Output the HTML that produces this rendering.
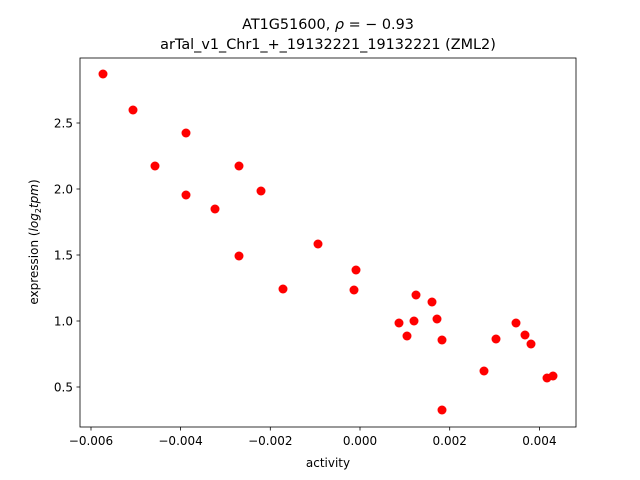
<!DOCTYPE html>
<html><head><style>body{margin:0;background:#fff}svg{display:block}text{font-family:"DejaVu Sans","Liberation Sans",sans-serif;fill:#000}</style></head><body>
<svg width="640" height="480" xmlns="http://www.w3.org/2000/svg">
<rect width="640" height="480" fill="#fff"/>
<text x="328" y="29" font-size="14.4" text-anchor="middle">AT1G51600, <tspan font-style="italic">ρ</tspan> = − 0.93</text>
<text x="328" y="49" font-size="14.4" text-anchor="middle">arTal_v1_Chr1_+_19132221_19132221 (ZML2)</text>
<g fill="#f00">
<circle cx="103" cy="74" r="4.5"/><circle cx="133" cy="110" r="4.5"/><circle cx="186" cy="133" r="4.5"/><circle cx="155" cy="166" r="4.5"/><circle cx="239" cy="166" r="4.5"/><circle cx="186" cy="195" r="4.5"/><circle cx="261" cy="191" r="4.5"/><circle cx="215" cy="209" r="4.5"/><circle cx="239" cy="256" r="4.5"/><circle cx="318" cy="244" r="4.5"/><circle cx="283" cy="289" r="4.5"/><circle cx="356" cy="270" r="4.5"/><circle cx="354" cy="290" r="4.5"/><circle cx="416" cy="295" r="4.5"/><circle cx="432" cy="302" r="4.5"/><circle cx="399" cy="323" r="4.5"/><circle cx="414" cy="321" r="4.5"/><circle cx="407" cy="336" r="4.5"/><circle cx="437" cy="319" r="4.5"/><circle cx="442" cy="340" r="4.5"/><circle cx="442" cy="410" r="4.5"/><circle cx="496" cy="339" r="4.5"/><circle cx="516" cy="323" r="4.5"/><circle cx="525" cy="335" r="4.5"/><circle cx="531" cy="344" r="4.5"/><circle cx="484" cy="371" r="4.5"/><circle cx="547" cy="378" r="4.5"/><circle cx="553" cy="376" r="4.5"/>
</g>
<rect x="80" y="58" width="496" height="369" fill="none" stroke="#000" stroke-width="0.8"/>
<g stroke="#000" stroke-width="0.8">
<line x1="91" y1="427" x2="91" y2="430.5"/><line x1="180.6" y1="427" x2="180.6" y2="430.5"/><line x1="270.3" y1="427" x2="270.3" y2="430.5"/><line x1="360" y1="427" x2="360" y2="430.5"/><line x1="449.7" y1="427" x2="449.7" y2="430.5"/><line x1="539.4" y1="427" x2="539.4" y2="430.5"/>
<line x1="80" y1="123" x2="76.5" y2="123"/><line x1="80" y1="189" x2="76.5" y2="189"/><line x1="80" y1="255" x2="76.5" y2="255"/><line x1="80" y1="321" x2="76.5" y2="321"/><line x1="80" y1="387" x2="76.5" y2="387"/>
</g>
<g font-size="12" text-anchor="middle">
<text x="91" y="445">−0.006</text><text x="180.6" y="445">−0.004</text><text x="270.3" y="445">−0.002</text><text x="360" y="445">0.000</text><text x="449.7" y="445">0.002</text><text x="539.4" y="445">0.004</text>
<text x="328" y="467">activity</text>
</g>
<g font-size="12" text-anchor="end">
<text x="73" y="127.5">2.5</text><text x="73" y="193.5">2.0</text><text x="73" y="259.5">1.5</text><text x="73" y="325.5">1.0</text><text x="73" y="391.5">0.5</text>
</g>
<text transform="translate(38,242) rotate(-90)" font-size="12" text-anchor="middle">expression (<tspan font-style="italic">log</tspan><tspan font-size="8" dy="3">2</tspan><tspan font-style="italic" dy="-3">tpm</tspan>)</text>
</svg>
</body></html>
